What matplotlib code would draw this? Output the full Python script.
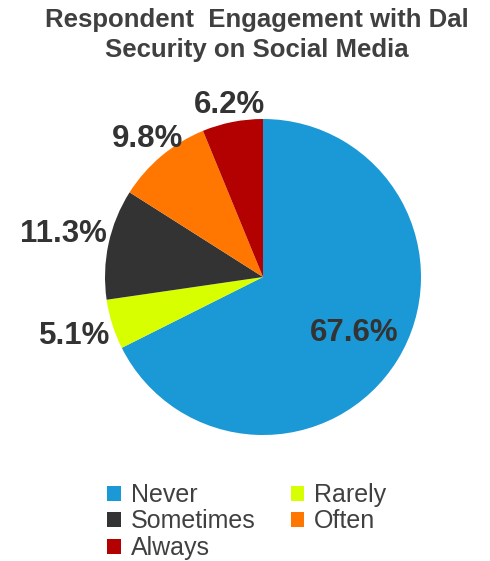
import numpy as np
import matplotlib.pyplot as plt

plt.rcParams["font.family"] = ["Liberation Sans", "DejaVu Sans"]

# engagement shares, clockwise from 12 o'clock
categories = ["Never", "Rarely", "Sometimes", "Often", "Always"]
shares = [67.6, 5.1, 11.3, 9.8, 6.2]
colors = ["#1b98d6", "#d7ff00", "#333333", "#ff7700", "#b30000"]
title = "Respondent  Engagement with Dal\nSecurity on Social Media"

W, H = 490, 561
fig = plt.figure(figsize=(W / 100, H / 100), dpi=100)

# pie centre (263, 277) px, radius 158 px
cx, cy, r = 263, 277, 158
ax = fig.add_axes([(cx - r) / W, (H - cy - r) / H, 2 * r / W, 2 * r / H])
wedges, _ = ax.pie(shares, colors=colors, startangle=90, counterclock=False,
                   radius=1.0, wedgeprops=dict(linewidth=0))
ax.set_xlim(-1, 1)
ax.set_ylim(-1, 1)
ax.set_axis_off()

fig.canvas.draw()
renderer = fig.canvas.get_renderer()
px = 1.0 / r  # one pixel in data units

for w, v in zip(wedges, shares):
    ang = np.deg2rad((w.theta1 + w.theta2) / 2)
    c, s = np.cos(ang), np.sin(ang)
    t = ax.text(0, 0, f"{v:.1f}%", ha="center", va="center",
                fontsize=22.5, fontweight="bold", color="#333333")
    if v > 50:
        t.set_position((0.68 * c, 0.68 * s))
        continue
    # push the label out until its box just clears the rim
    bb = t.get_window_extent(renderer)
    hw, hh = bb.width / 2 * px, bb.height / 2 * px
    off = min(hw / max(abs(c), 1e-6), hh / max(abs(s), 1e-6))
    d = 1.0 + 2 * px + off
    t.set_position((d * c, d * s))

fig.text(257 / W, 1 - 8 / H, title, ha="center", va="top", fontsize=18.5,
         fontweight="bold", color="#404040", linespacing=1.3)

# row-major legend order in two columns
order = [0, 2, 4, 1, 3]
leg = fig.legend([wedges[i] for i in order], [categories[i] for i in order],
                 ncol=2, loc="upper left", bbox_to_anchor=(107 / W, 1 - 483 / H),
                 frameon=False, fontsize=18, handlelength=0.55, handleheight=0.55,
                 handletextpad=0.4, columnspacing=1.4, labelspacing=0.1,
                 borderpad=0, borderaxespad=0)
for t in leg.get_texts():
    t.set_color("#404040")

fig.savefig("out.png", dpi=100)
